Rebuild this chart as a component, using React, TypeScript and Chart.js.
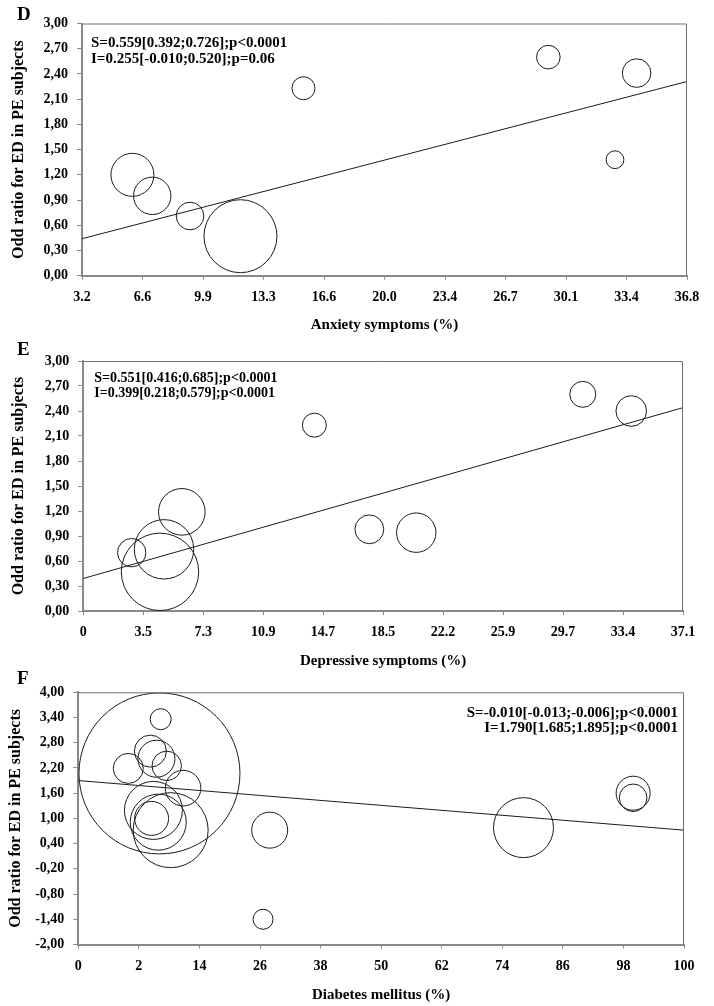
import React, { useEffect, useRef } from "react";
import { Chart, registerables } from "chart.js";

Chart.register(...registerables);

const FONT = "'Liberation Serif', 'Times New Roman', serif";
const W = 714;

// ---------- Panel D : Anxiety symptoms ----------
const anxietyPct = [6.0, 7.1, 9.2, 12.0, 15.5, 29.1, 34.0, 32.8];
const anxietyOR = [1.2, 0.95, 0.71, 0.47, 2.23, 2.6, 2.41, 1.38];
const anxietyWeight = [21.5, 18.7, 13.8, 36.5, 11.5, 11.8, 14.3, 8.9];
const anxietyFitX = [3.2, 36.8];
const anxietyFitY = [0.44, 2.31];
const anxietyTicks = ["3.2", "6.6", "9.9", "13.3", "16.6", "20.0", "23.4", "26.7", "30.1", "33.4", "36.8"];
const anxietyNotes = ["S=0.559[0.392;0.726];p<0.0001", "I=0.255[-0.010;0.520];p=0.06"];

// ---------- Panel E : Depressive symptoms ----------
const depressivePct = [3.0, 5.0, 4.75, 6.1, 14.3, 17.7, 20.6, 30.9, 33.9];
const depressiveOR = [0.7, 0.74, 0.47, 1.19, 2.23, 0.98, 0.94, 2.6, 2.4];
const depressiveWeight = [14.2, 29.7, 38.7, 23.3, 12, 14.4, 19.7, 13, 15.3];
const depressiveFitX = [0, 37.1];
const depressiveFitY = [0.39, 2.44];
const depressiveTicks = ["0", "3.5", "7.3", "10.9", "14.7", "18.5", "22.2", "25.9", "29.7", "33.4", "37.1"];
const depressiveNotes = ["S=0.551[0.416;0.685];p<0.0001", "I=0.399[0.218;0.579];p<0.0001"];

// ---------- Panel F : Diabetes mellitus ----------
const diabetesPos = [13.4, 13.6, 8.25, 11.9, 12.9, 14.6, 17.3, 12.4, 13.2, 12.1, 15.25, 31.6, 30.5, 73.5, 91.6, 91.6];
const diabetesOR = [2.07, 3.36, 2.19, 2.6, 2.42, 2.25, 1.72, 1.19, 0.91, 1.0, 0.72, 0.72, -1.4, 0.78, 1.6, 1.49];
const diabetesWeight = [80.5, 10.5, 15, 16, 18.5, 14.7, 17.8, 29, 28, 17, 37.5, 18, 10, 30, 17, 13.8];
const diabetesFitX = [0, 100];
const diabetesFitY = [1.9, 0.72];
const diabetesTicks = ["0", "2", "14", "26", "38", "50", "62", "74", "86", "98", "100"];
const diabetesNotes = ["S=-0.010[-0.013;-0.006];p<0.0001", "I=1.790[1.685;1.895];p<0.0001"];

// ---------- Y tick labels ----------
const orTicks3 = ["0,00", "0,30", "0,60", "0,90", "1,20", "1,50", "1,80", "2,10", "2,40", "2,70", "3,00"];
const orTicks4 = ["-2,00", "-1,40", "-0,80", "-0,20", "0,40", "1,00", "1,60", "2,20", "2,80", "3,40", "4,00"];

const yTitle = "Odd ratio for ED in PE subjects";

type Panel = {
  letter: string;
  letterBase: number;
  top: number;
  height: number;
  area: { left: number; top: number; right: number; bottom: number };
  titleY: number;
  yTitlePad: number;
  xMin: number;
  xMax: number;
  xLabels: string[];
  yMin: number;
  yMax: number;
  yLabels: string[];
  xTitle: string;
  bx: number[];
  by: number[];
  br: number[];
  fx: number[];
  fy: number[];
  notes: string[];
  noteDx: number;
  noteDy: number;
  noteGap: number;
  noteSize: number;
  noteAlign: "left" | "right";
};

const panels: Panel[] = [
  {
    letter: "D", letterBase: 20, top: 0, height: 340,
    area: { left: 82, top: 23.5, right: 687, bottom: 275.7 },
    titleY: 325, yTitlePad: 9,
    xMin: 3.2, xMax: 36.8, xLabels: anxietyTicks,
    yMin: 0, yMax: 3, yLabels: orTicks3,
    xTitle: "Anxiety symptoms (%)",
    bx: anxietyPct, by: anxietyOR, br: anxietyWeight,
    fx: anxietyFitX, fy: anxietyFitY,
    notes: anxietyNotes, noteDx: 9, noteDy: 19.5, noteGap: 16, noteSize: 15, noteAlign: "left",
  },
  {
    letter: "E", letterBase: 20, top: 335, height: 340,
    area: { left: 83.2, top: 26, right: 683, bottom: 276 },
    titleY: 326, yTitlePad: 9,
    xMin: 0, xMax: 37.1, xLabels: depressiveTicks,
    yMin: 0, yMax: 3, yLabels: orTicks3,
    xTitle: "Depressive symptoms (%)",
    bx: depressivePct, by: depressiveOR, br: depressiveWeight,
    fx: depressiveFitX, fy: depressiveFitY,
    notes: depressiveNotes, noteDx: 11, noteDy: 17, noteGap: 15.6, noteSize: 14, noteAlign: "left",
  },
  {
    letter: "F", letterBase: 16, top: 668, height: 338,
    area: { left: 78.3, top: 24.3, right: 684, bottom: 276.5 },
    titleY: 327, yTitlePad: 6,
    xMin: 0, xMax: 100, xLabels: diabetesTicks,
    yMin: -2, yMax: 4, yLabels: orTicks4,
    xTitle: "Diabetes mellitus (%)",
    bx: diabetesPos, by: diabetesOR, br: diabetesWeight,
    fx: diabetesFitX, fy: diabetesFitY,
    notes: diabetesNotes, noteDx: 6, noteDy: 20.5, noteGap: 15, noteSize: 15, noteAlign: "right",
  },
];

function spread(min: number, max: number, n: number) {
  const out: number[] = [];
  for (let i = 0; i < n; i++) out.push(min + (i * (max - min)) / (n - 1));
  return out;
}

function PanelChart({ p }: { p: Panel }) {
  const ref = useRef<HTMLCanvasElement | null>(null);
  useEffect(() => {
    if (!ref.current) return;
    const xVals = spread(p.xMin, p.xMax, p.xLabels.length);
    const yVals = spread(p.yMin, p.yMax, p.yLabels.length);
    const axisColor = "#8a8a8a";

    const deco = {
      id: "deco" + p.letter,
      afterDraw(chart: any) {
        const ctx = chart.ctx as CanvasRenderingContext2D;
        const a = chart.chartArea;
        ctx.save();
        ctx.strokeStyle = "#6e6e6e";
        ctx.lineWidth = 1;
        ctx.beginPath();
        ctx.moveTo(a.left, a.top + 0.5);
        ctx.lineTo(a.right - 0.5, a.top + 0.5);
        ctx.lineTo(a.right - 0.5, a.bottom);
        ctx.stroke();
        ctx.fillStyle = "#000";
        ctx.font = `bold 19px ${FONT}`;
        ctx.textAlign = "left";
        ctx.textBaseline = "alphabetic";
        ctx.fillText(p.letter, 17, p.letterBase);
        ctx.font = `bold ${p.noteSize}px ${FONT}`;
        ctx.textBaseline = "middle";
        ctx.textAlign = p.noteAlign;
        const nx = p.noteAlign === "left" ? a.left + p.noteDx : a.right - p.noteDx;
        p.notes.forEach((t, i) => ctx.fillText(t, nx, a.top + p.noteDy + i * p.noteGap));
        ctx.restore();
      },
    };

    const chart = new Chart(ref.current, {
      type: "bubble",
      data: {
        datasets: [
          {
            type: "line",
            data: p.fx.map((x, i) => ({ x, y: p.fy[i] })),
            borderColor: "#1a1a1a",
            borderWidth: 1,
            pointRadius: 0,
            fill: false,
            clip: false,
          } as any,
          {
            type: "bubble",
            data: p.bx.map((x, i) => ({ x, y: p.by[i], r: p.br[i] })),
            backgroundColor: "rgba(0,0,0,0)",
            borderColor: "#1a1a1a",
            borderWidth: 1,
            hoverRadius: 0,
            clip: false,
          } as any,
        ],
      },
      options: {
        responsive: false,
        animation: false,
        devicePixelRatio: 1,
        events: [],
        layout: {
          autoPadding: false,
          padding: {
            left: 0,
            top: p.area.top,
            right: W - p.area.right,
            bottom: p.height - (p.titleY + 9),
          },
        },
        plugins: {
          legend: { display: false },
          tooltip: { enabled: false },
          title: { display: false },
        },
        scales: {
          x: {
            type: "linear",
            min: p.xMin,
            max: p.xMax,
            afterBuildTicks: (s: any) => {
              s.ticks = xVals.map((v) => ({ value: v }));
            },
            afterFit: (s: any) => {
              s.height = p.titleY + 9 - p.area.bottom;
            },
            ticks: {
              autoSkip: false,
              maxRotation: 0,
              minRotation: 0,
              padding: 9,
              color: "#000",
              font: { family: FONT, weight: "bold", size: 14 },
              callback: (_v: any, i: number) => p.xLabels[i],
            },
            grid: {
              drawOnChartArea: false,
              drawTicks: true,
              tickLength: 4,
              tickColor: axisColor,
              color: axisColor,
            },
            border: { display: true, color: axisColor, width: 2 },
            title: {
              display: true,
              text: p.xTitle,
              color: "#000",
              font: { family: FONT, weight: "bold", size: 15 },
              padding: { top: 0, bottom: 0 },
            },
          } as any,
          y: {
            type: "linear",
            min: p.yMin,
            max: p.yMax,
            afterBuildTicks: (s: any) => {
              s.ticks = yVals.map((v) => ({ value: v }));
            },
            afterFit: (s: any) => {
              s.width = p.area.left;
            },
            ticks: {
              autoSkip: false,
              padding: 9,
              color: "#000",
              font: { family: FONT, weight: "bold", size: 14 },
              callback: (_v: any, i: number) => p.yLabels[i],
            },
            grid: {
              drawOnChartArea: false,
              drawTicks: true,
              tickLength: 5,
              tickColor: axisColor,
              color: axisColor,
            },
            border: { display: true, color: axisColor, width: 2 },
            title: {
              display: true,
              text: yTitle,
              color: "#000",
              font: { family: FONT, weight: "bold", size: 16 },
              padding: { top: p.yTitlePad, bottom: 0 },
            },
          } as any,
        },
      },
      plugins: [deco],
    } as any);
    return () => chart.destroy();
  }, [p]);

  return (
    <canvas
      ref={ref}
      width={W}
      height={p.height}
      style={{ position: "absolute", left: 0, top: p.top, width: W, height: p.height }}
    />
  );
}

export default function App() {
  return (
    <div
      style={{
        position: "absolute",
        left: 0,
        top: 0,
        width: W,
        height: 1006,
        overflow: "hidden",
        background: "#fff",
      }}
    >
      {panels.map((p) => (
        <PanelChart key={p.letter} p={p} />
      ))}
    </div>
  );
}
